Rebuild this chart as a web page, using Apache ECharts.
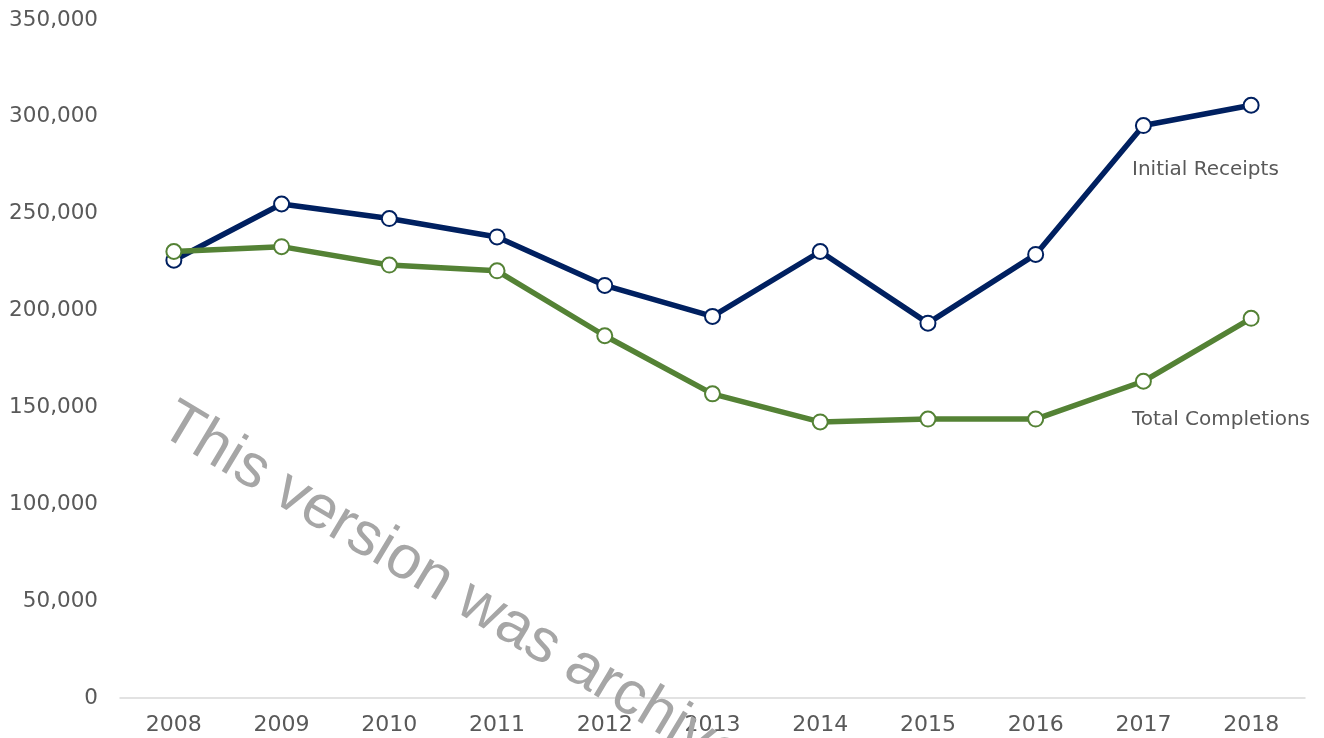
<!DOCTYPE html>
<html>
<head>
<meta charset="utf-8">
<script src="https://cdn.jsdelivr.net/npm/echarts@6/dist/echarts.min.js"></script>
<style>
html,body{margin:0;padding:0;background:#fff;}
#chart{width:1324px;height:738px;}
</style>
</head>
<body>
<div id="chart"></div>
<script>
const years = ['2008','2009','2010','2011','2012','2013','2014','2015','2016','2017','2018'];
const initialReceipts = [226000, 255000, 247500, 238000, 213000, 197000, 230500, 193500, 229000, 295500, 306000];
const totalCompletions = [230500, 233000, 223500, 220500, 187000, 157000, 142500, 144000, 144000, 163500, 196000];
const seriesNames = ['Initial Receipts', 'Total Completions'];
const watermarkText = 'This version was archived.';

const tickColor = '#595959';
const chart = echarts.init(document.getElementById('chart'));
chart.setOption({
  animation: false,
  grid: { left: 120, right: 19, top: 20, bottom: 40, containLabel: false },
  xAxis: {
    type: 'category',
    data: years,
    boundaryGap: true,
    axisLine: { lineStyle: { color: '#d9d9d9', width: 1.5 } },
    axisTick: { show: false },
    axisLabel: { color: tickColor, fontFamily: 'DejaVu Sans', fontSize: 22, margin: 16 }
  },
  yAxis: {
    type: 'value',
    min: 0, max: 350000, interval: 50000,
    axisLine: { show: false },
    axisTick: { show: false },
    splitLine: { show: false },
    axisLabel: {
      color: tickColor, fontFamily: 'DejaVu Sans', fontSize: 21.5, margin: 22,
      formatter: v => v.toLocaleString('en-US')
    }
  },
  series: [
    {
      name: seriesNames[0], type: 'line', data: initialReceipts,
      lineStyle: { color: '#002060', width: 5.5 },
      itemStyle: { color: '#ffffff', borderColor: '#002060', borderWidth: 2 },
      symbol: 'circle', symbolSize: 15, z: 2
    },
    {
      name: seriesNames[1], type: 'line', data: totalCompletions,
      lineStyle: { color: '#548235', width: 5.5 },
      itemStyle: { color: '#ffffff', borderColor: '#548235', borderWidth: 2 },
      symbol: 'circle', symbolSize: 15, z: 3
    }
  ],
  graphic: [
    { type: 'text', x: 1132, y: 170, z: 10,
      style: { text: seriesNames[0], fill: tickColor, font: '20px "DejaVu Sans"', textVerticalAlign: 'middle' } },
    { type: 'text', x: 1132, y: 420, z: 10,
      style: { text: seriesNames[1], fill: tickColor, font: '20px "DejaVu Sans"', textVerticalAlign: 'middle' } },
    { type: 'text', x: 166, y: 418, rotation: -0.541, z: 100, zlevel: 1,
      style: { text: watermarkText, fill: '#a6a6a6', font: '61px "Liberation Sans"', textVerticalAlign: 'middle' } }
  ]
});
</script>
</body>
</html>
